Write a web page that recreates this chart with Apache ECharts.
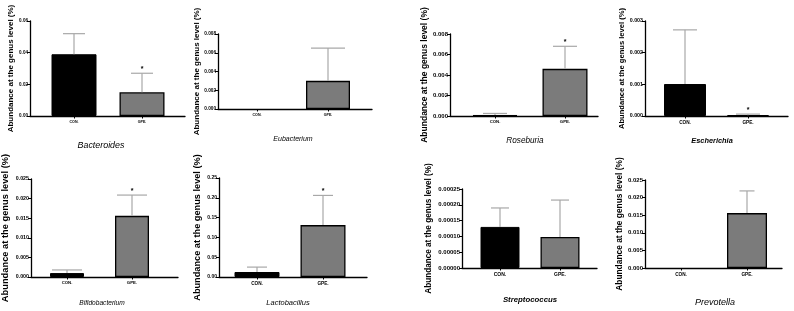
<!DOCTYPE html>
<html>
<head>
<meta charset="utf-8">
<script src="https://cdn.jsdelivr.net/npm/echarts@6/dist/echarts.min.js"></script>
<style>
html,body{margin:0;padding:0;background:#fff;}
#chart{width:794px;height:311px;}
</style>
</head>
<body>
<div id="chart"></div>
<script>
// ---- data ----
const categories = ['CON.', 'GPE.'];
const genera = ['Bacteroides', 'Eubacterium', 'Roseburia', 'Escherichia', 'Bifidobacterium', 'Lactobacillus', 'Streptococcus', 'Prevotella'];
const conMeans = [0.039, 0, 0.0001, 0.00101, 0.001, 0.0126, 0.00013, 0];
const conErr = [0.013, 0, 0.00015, 0.00171, 0.0008, 0.0124, 0.00006, 0];
const gpeMeans = [0.015, 0.003, 0.0046, 0.00002, 0.0156, 0.131, 0.000098, 0.0156];
const gpeErr = [0.012, 0.0035, 0.0022, 0.00004, 0.0053, 0.075, 0.000117, 0.0063];
const gpeStar = [1, 0, 1, 1, 1, 1, 0, 0];
const yMax = [0.06, 0.008, 0.008, 0.003, 0.025, 0.25, 0.00025, 0.025];
const yStep = [0.02, 0.002, 0.002, 0.001, 0.005, 0.05, 0.00005, 0.005];
const yDecimals = [2, 3, 3, 3, 3, 2, 5, 3];
const yTitle = 'Abundance at the genus level (%)';

// ---- layout (pixels) ----
const layout = [
  {L:30, R:185, T:21, B:116, c0:74, c1:142, bw:45, cap:11, gap:14, ts:8, tick:4.6, cat:3.6, gx:101, gy:146, gs:8.9, gb:false},
  {L:218, R:372, T:34, B:109, c0:257, c1:328, bw:44, cap:17, gap:14, ts:8, tick:4.7, cat:3.6, gx:293, gy:139, gs:7, gb:false},
  {L:450, R:598, T:34, B:116, c0:495, c1:565, bw:45, cap:12, gap:16, ts:8.5, tick:6, cat:4.3, gx:525, gy:141, gs:8.2, gb:false},
  {L:645, R:788, T:21, B:116, c0:685, c1:748, bw:42, cap:12, gap:16, ts:7.6, tick:5.3, cat:4.7, gx:712, gy:141, gs:7.4, gb:true},
  {L:31, R:178, T:179, B:277, c0:67, c1:132, bw:34, cap:15, gap:21, ts:9.3, tick:5.3, cat:4.3, gx:102, gy:303, gs:6.6, gb:false},
  {L:219, R:367, T:178, B:277, c0:257, c1:323, bw:45, cap:10, gap:17, ts:9.2, tick:5, cat:4.7, gx:288, gy:303, gs:7.5, gb:false},
  {L:462, R:597, T:189, B:268, c0:500, c1:560, bw:39, cap:9, gap:29, ts:8.2, tick:6, cat:5, gx:530, gy:300, gs:7.8, gb:true},
  {L:645, R:782, T:180, B:268, c0:681, c1:747, bw:40, cap:7.5, gap:18, ts:8.4, tick:6, cat:4.7, gx:715, gy:302, gs:9, gb:false}
];

const chart = echarts.init(document.getElementById('chart'), null, {renderer:'canvas'});
const grids = [], xAxes = [], yAxes = [], series = [], titles = [];

layout.forEach((p, i) => {
  const s = p.c1 - p.c0;
  grids.push({left:p.L, top:p.T, width:p.R - p.L, height:p.B - p.T, containLabel:false});
  xAxes.push({
    type:'value', gridIndex:i,
    min:-(p.c0 - p.L) / s, max:1 + (p.R - p.c1) / s,
    splitLine:{show:false},
    axisLine:{show:true, onZero:false, lineStyle:{color:'#000', width:1.3}},
    axisTick:{show:true, customValues:[0,1], length:2.5, lineStyle:{color:'#000', width:1}},
    axisLabel:{show:true, customValues:[0,1], formatter:v => categories[Math.round(v)] || '', fontSize:p.cat, fontWeight:'bold', color:'#000', margin:4}
  });
  yAxes.push({
    type:'value', gridIndex:i, min:0, max:yMax[i], interval:yStep[i],
    name:yTitle, nameLocation:'middle', nameGap:p.gap,
    nameTextStyle:{fontSize:p.ts, fontWeight:'bold', color:'#000'},
    splitLine:{show:false},
    axisLine:{show:true, onZero:false, lineStyle:{color:'#000', width:1.3}},
    axisTick:{show:true, length:3, lineStyle:{color:'#000', width:1}},
    axisLabel:{fontSize:p.tick, fontWeight:'bold', color:'#000', margin:2, formatter:v => v.toFixed(yDecimals[i])}
  });
  series.push({
    type:'bar', xAxisIndex:i, yAxisIndex:i, barWidth:p.bw, z:2,
    data:[
      {value:[0, conMeans[i]], itemStyle:{color:'#000', borderColor:'#000', borderWidth:conMeans[i] > 0 ? 1 : 0}},
      {value:[1, gpeMeans[i]], itemStyle:{color:'#7b7b7b', borderColor:'#000', borderWidth:gpeMeans[i] > 0 ? 1.3 : 0}}
    ]
  });
  series.push({
    type:'custom', xAxisIndex:i, yAxisIndex:i, z:3,
    renderItem:(params, api) => {
      const x = api.value(0), m = api.value(1), e = api.value(2), st = api.value(3);
      const children = [];
      if (e > 0) {
        const a = api.coord([x, m]);
        const b = api.coord([x, m + e]);
        children.push({type:'line', shape:{x1:a[0], y1:a[1], x2:b[0], y2:b[1]}, style:{stroke:'#a8a8a8', lineWidth:1.2}});
        children.push({type:'line', shape:{x1:b[0] - p.cap, y1:b[1], x2:b[0] + p.cap, y2:b[1]}, style:{stroke:'#a8a8a8', lineWidth:1.2}});
        if (st) {
          children.push({type:'text', style:{x:b[0], y:b[1] - 4, text:'*', fill:'#000', fontSize:7, fontWeight:'bold', align:'center', verticalAlign:'middle'}});
        }
      }
      return {type:'group', children};
    },
    data:[[0, conMeans[i], conErr[i], 0], [1, gpeMeans[i], gpeErr[i], gpeStar[i]]]
  });
  titles.push({
    text:genera[i], left:p.gx, top:p.gy, textAlign:'center', textVerticalAlign:'middle', padding:0,
    textStyle:{fontSize:p.gs, fontStyle:'italic', fontWeight:p.gb ? 'bold' : 'normal', color:'#000'}
  });
});

chart.setOption({
  backgroundColor:'#fff',
  animation:false,
  textStyle:{fontFamily:'"Liberation Sans", Arial, Helvetica, sans-serif'},
  title:titles,
  grid:grids,
  xAxis:xAxes,
  yAxis:yAxes,
  series:series
});
</script>
</body>
</html>
